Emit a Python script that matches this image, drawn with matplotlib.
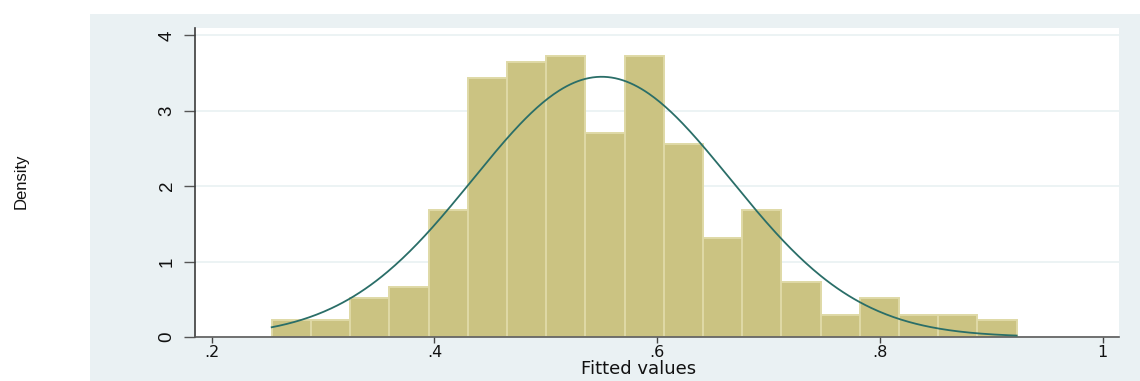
import numpy as np
import matplotlib
matplotlib.use("Agg")
import matplotlib.pyplot as plt
from matplotlib.patches import Rectangle
from matplotlib import font_manager

# Histogram of fitted values (density scale) with a normal overlay
bin_start = 0.2539
bin_width = 0.03521
densities = [0.225, 0.225, 0.513, 0.667, 1.684, 3.43, 3.65, 3.73, 2.70, 3.73,
             2.56, 1.31, 1.684, 0.733, 0.292, 0.513, 0.292, 0.292, 0.225]
fit_mean = 0.5502
fit_sd = 0.1156
x_ticks = [0.2, 0.4, 0.6, 0.8, 1.0]
x_tick_labels = [".2", ".4", ".6", ".8", "1"]
y_ticks = [0, 1, 2, 3, 4]
y_tick_labels = ["0", "1", "2", "3", "4"]

installed = {f.name for f in font_manager.fontManager.ttflist}
sans = "Liberation Sans" if "Liberation Sans" in installed else "DejaVu Sans"
narrow = "Liberation Sans Narrow" if "Liberation Sans Narrow" in installed else sans

panel_color = "#EAF1F3"
bar_face = "#CBC382"
bar_edge = "#DFD9A6"
curve_color = "#2A6E68"
grid_color = "#EAF2F3"
ink = "#111111"

fig = plt.figure(figsize=(11.4, 3.81), dpi=100)
fig.patch.set_facecolor("white")

# light graph region behind the plot
fig.patches.append(Rectangle((90 / 1140, 0), 1 - 90 / 1140, (381 - 14) / 381,
                             transform=fig.transFigure, facecolor=panel_color,
                             edgecolor="none", zorder=-10))

ax = fig.add_axes([195 / 1140, 44 / 381, 924 / 1140, 309 / 381])
ax.set_zorder(1)
ax.set_facecolor("white")

n_bins = len(densities)
lefts = bin_start + bin_width * np.arange(n_bins)
ax.bar(lefts, densities, width=bin_width, align="edge", color=bar_face,
       edgecolor=bar_edge, linewidth=1.4, zorder=2)

bin_end = bin_start + bin_width * n_bins
xs = np.linspace(bin_start, bin_end, 400)
pdf = np.exp(-0.5 * ((xs - fit_mean) / fit_sd) ** 2) / (fit_sd * np.sqrt(2 * np.pi))
ax.plot(xs, pdf, color=curve_color, linewidth=1.3, zorder=3)

ax.set_xlim(0.185, 1.0148)
ax.set_ylim(0, 4.098)

ax.set_yticks(y_ticks)
ax.set_yticklabels(y_tick_labels, rotation=90, va="center", ha="right",
                   fontsize=13.5, family=sans, color=ink)
ax.set_xticks(x_ticks)
ax.set_xticklabels(x_tick_labels, fontsize=11.5, family="DejaVu Sans", color=ink)

ax.tick_params(axis="y", length=8, width=1.0, color="#555555", pad=6)
ax.tick_params(axis="x", length=4, width=1.0, color="#444444", pad=2)

ax.yaxis.grid(True, color=grid_color, linewidth=1.3, zorder=0)
ax.set_axisbelow(True)

for side in ("top", "right"):
    ax.spines[side].set_visible(False)
ax.spines["left"].set_color("#3C3C3C")
ax.spines["left"].set_linewidth(1.2)
ax.spines["bottom"].set_color("#5A5A5A")
ax.spines["bottom"].set_linewidth(1.2)

fig.text(581 / 1140, (381 - 369) / 381, "Fitted values", ha="left", va="center",
         fontsize=13, family="DejaVu Sans", color=ink)
fig.text(21 / 1140, (381 - 181) / 381, "Density", rotation=90, ha="center",
         va="center", fontsize=12, family=narrow, color=ink)

fig.savefig("out.png", dpi=100)
